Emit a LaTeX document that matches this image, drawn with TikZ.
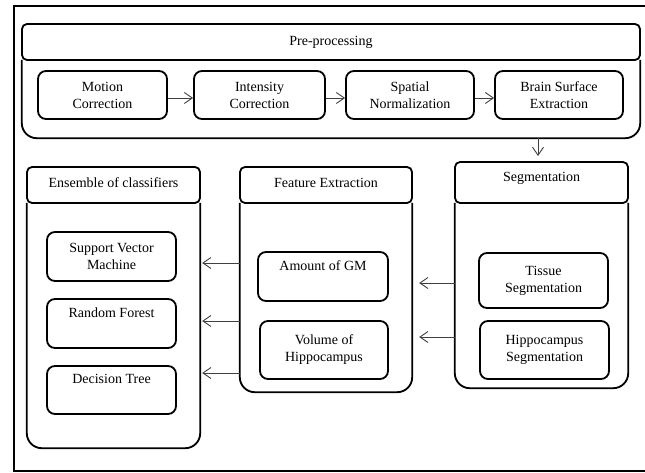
\documentclass[tikz,border=0pt]{standalone}
\usepackage{fontspec}
\setmainfont{Liberation Serif}
\usetikzlibrary{arrows.meta}
\begin{document}
\begin{tikzpicture}[x=1pt,y=-1pt,
  font=\fontsize{14}{17}\selectfont,
  titlebox/.style={draw, line width=1.8pt, rounded corners=5pt, rectangle, inner sep=0pt, align=center},
  bodybox/.style={rectangle, inner sep=0pt},
  itembox/.style={draw, line width=1.8pt, rounded corners=8pt, rectangle, inner sep=0pt, align=center,
     minimum width=129pt},
  arr/.style={draw=black!75, line width=0.9pt, -{Straight Barb[length=8pt,width=11pt]}},
  outline/.style={line width=1.8pt, rounded corners=15pt}]
\useasboundingbox (0,0) rectangle (645,473);
% frame
\draw[line width=2pt] (646,6) -- (13.5,6) -- (13.5,470.5) -- (646,470.5);

% Pre-processing
\node[titlebox, minimum width=618pt, minimum height=36pt] (pre) at (331,42) {Pre-processing};
\node[bodybox, minimum width=618pt, minimum height=78pt] (preb) at (331,99) {};
\draw[outline] (preb.north west) -- (preb.south west) -- (preb.south east) -- (preb.north east);
\node[itembox, minimum height=48pt] (mot) at (102.5,95) {Motion\\Correction};
\node[itembox, minimum width=131pt, minimum height=48pt] (int) at (259.5,95) {Intensity\\Correction};
\node[itembox, minimum width=128pt, minimum height=48pt] (spa) at (410,95) {Spatial\\Normalization};
\node[itembox, minimum width=128pt, minimum height=48pt] (bra) at (559,95) {Brain Surface\\Extraction};
\draw[arr] ([yshift=-3pt]mot.east) -- ([yshift=-3pt]int.west);
\draw[arr] ([yshift=-3pt]int.east) -- ([yshift=-3pt]spa.west);
\draw[arr] ([yshift=-3pt]spa.east) -- ([yshift=-3pt]bra.west);

% Segmentation
\node[titlebox, minimum width=173pt, minimum height=41pt] (seg) at (541.5,182.5) {\raisebox{4.5pt}[\height][\depth]{Segmentation}};
\node[bodybox, minimum width=173pt, minimum height=185pt] (segb) at (541.5,295.5) {};
\draw[outline] (segb.north west) -- (segb.south west) -- (segb.south east) -- (segb.north east);
\node[itembox, minimum height=55pt] (tis) at (543.5,280.5) {Tissue\\Segmentation};
\node[itembox, minimum height=58pt] (hip) at (544.5,350) {Hippocampus\\Segmentation};

% Feature Extraction
\node[titlebox, minimum width=172pt, minimum height=36pt] (feat) at (326,185) {\raisebox{2pt}[\height][\depth]{Feature Extraction}};
\node[bodybox, minimum width=172pt, minimum height=189pt] (featb) at (326,297.5) {};
\draw[outline] (featb.north west) -- (featb.south west) -- (featb.south east) -- (featb.north east);
\node[itembox, minimum width=130pt, minimum height=49pt] (amt) at (323,276.5) {Amount of GM\\\strut};
\node[itembox, minimum width=128pt, minimum height=58pt] (vol) at (324,350) {Volume of\\Hippocampus};

% Ensemble
\node[titlebox, minimum width=173pt, minimum height=36pt] (ens) at (113.5,185) {\raisebox{2pt}[\height][\depth]{Ensemble of classifiers}};
\node[bodybox, minimum width=173pt, minimum height=245pt] (ensb) at (113.5,325.5) {};
\draw[outline] (ensb.north west) -- (ensb.south west) -- (ensb.south east) -- (ensb.north east);
\node[itembox, minimum height=49pt] (svm) at (111.5,256.5) {Support Vector\\Machine};
\node[itembox, minimum height=49pt] (rf) at (111.5,323.5) {Random Forest\\\strut};
\node[itembox, minimum height=48pt] (dt) at (111.5,390) {Decision Tree\\\strut};

% connectors
\coordinate (prebot) at (538,138);
\coordinate (segtop) at (538,156);
\draw[arr] (prebot) -- (segtop);
\draw[arr, shorten >=7pt] (segb.west |- 0,283) -- (featb.east |- 0,283);
\draw[arr, shorten >=7pt] (segb.west |- 0,337) -- (featb.east |- 0,337);
\draw[arr, shorten >=2pt] (featb.west |- 0,263) -- (ensb.east |- 0,263);
\draw[arr, shorten >=2pt] (featb.west |- 0,321) -- (ensb.east |- 0,321);
\draw[arr, shorten >=2pt] (featb.west |- 0,373) -- (ensb.east |- 0,373);
\end{tikzpicture}
\end{document}
